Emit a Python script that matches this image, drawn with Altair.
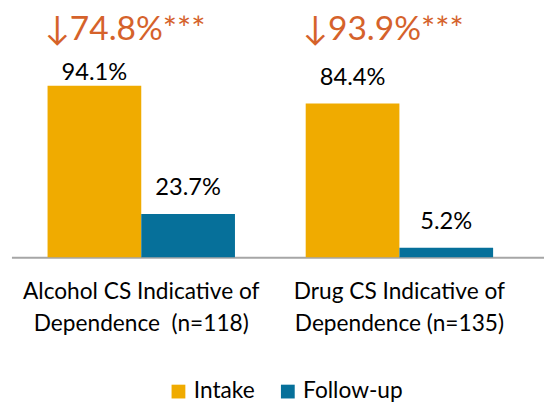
import altair as alt
import pandas as pd

categories = ["Alcohol CS Indicative of|Dependence \u00a0(n=118)", "Drug CS Indicative of|Dependence (n=135)"]
series = ["Intake", "Follow-up"]
intake = [94.1, 84.4]
followup = [23.7, 5.2]
changes = ["↓74.8%***", "↓93.9%***"]
colors = ["#F0AB00", "#06709A"]

rows = []
for c, a, b in zip(categories, intake, followup):
    rows.append({"category": c, "series": series[0], "value": a})
    rows.append({"category": c, "series": series[1], "value": b})
df = pd.DataFrame(rows)
ann = pd.DataFrame({"category": categories, "change": changes})

FONT = "Lato"

xscale = alt.Scale(domain=categories, paddingInner=0.274, paddingOuter=0.1685, align=0.415)
yscale = alt.Scale(domain=[0, 130])

base = alt.Chart(df).encode(
    x=alt.X("category:N", sort=categories, scale=xscale,
            axis=alt.Axis(title=None, labelExpr="split(datum.label, '|')", labelAngle=0,
                          ticks=False, domainColor="#A6A6A6", domainWidth=2,
                          labelFont=FONT, labelFontSize=23, labelColor="black", labelLimit=0,
                          labelLineHeight=32, labelPadding=24, labelBaseline="top")),
    xOffset=alt.XOffset("series:N", sort=series, scale=alt.Scale(domain=series, paddingInner=0, paddingOuter=0)),
)

bars = base.mark_bar().encode(
    y=alt.Y("value:Q", scale=yscale, axis=None),
    color=alt.Color("series:N", sort=series, scale=alt.Scale(domain=series, range=colors),
                    legend=alt.Legend(title=None, orient="none", direction="horizontal",
                                      legendX=158, legendY=365,
                                      symbolType="square", symbolSize=196, symbolStrokeWidth=0,
                                      labelFont=FONT, labelFontSize=23, labelColor="black",
                                      labelOffset=4, columnPadding=22)),
)

labels = base.transform_calculate(
    labelpos="min(datum.value + 10.3, 97.3)",
    txt="format(datum.value, '.1f') + '%'",
).mark_text(font=FONT, fontSize=24, color="black", baseline="alphabetic").encode(
    y=alt.Y("labelpos:Q", scale=yscale),
    text="txt:N",
)

annot = alt.Chart(ann).mark_text(font=FONT, fontSize=34, color="#D5622B", align="left",
                                 baseline="alphabetic", dx=-98).encode(
    x=alt.X("category:N", sort=categories, scale=xscale),
    y=alt.datum(119.5, scale=yscale),
    text="change:N",
)

chart = alt.layer(bars, labels, annot).properties(
    width=540.5, height=240.4,
    autosize=alt.AutoSizeParams(type="none"),
    padding={"left": 3.5, "top": 9.6, "right": 0, "bottom": 146},
).configure_view(stroke=None)

chart.save("out.html", embed_options={"renderer": "svg", "actions": False})
